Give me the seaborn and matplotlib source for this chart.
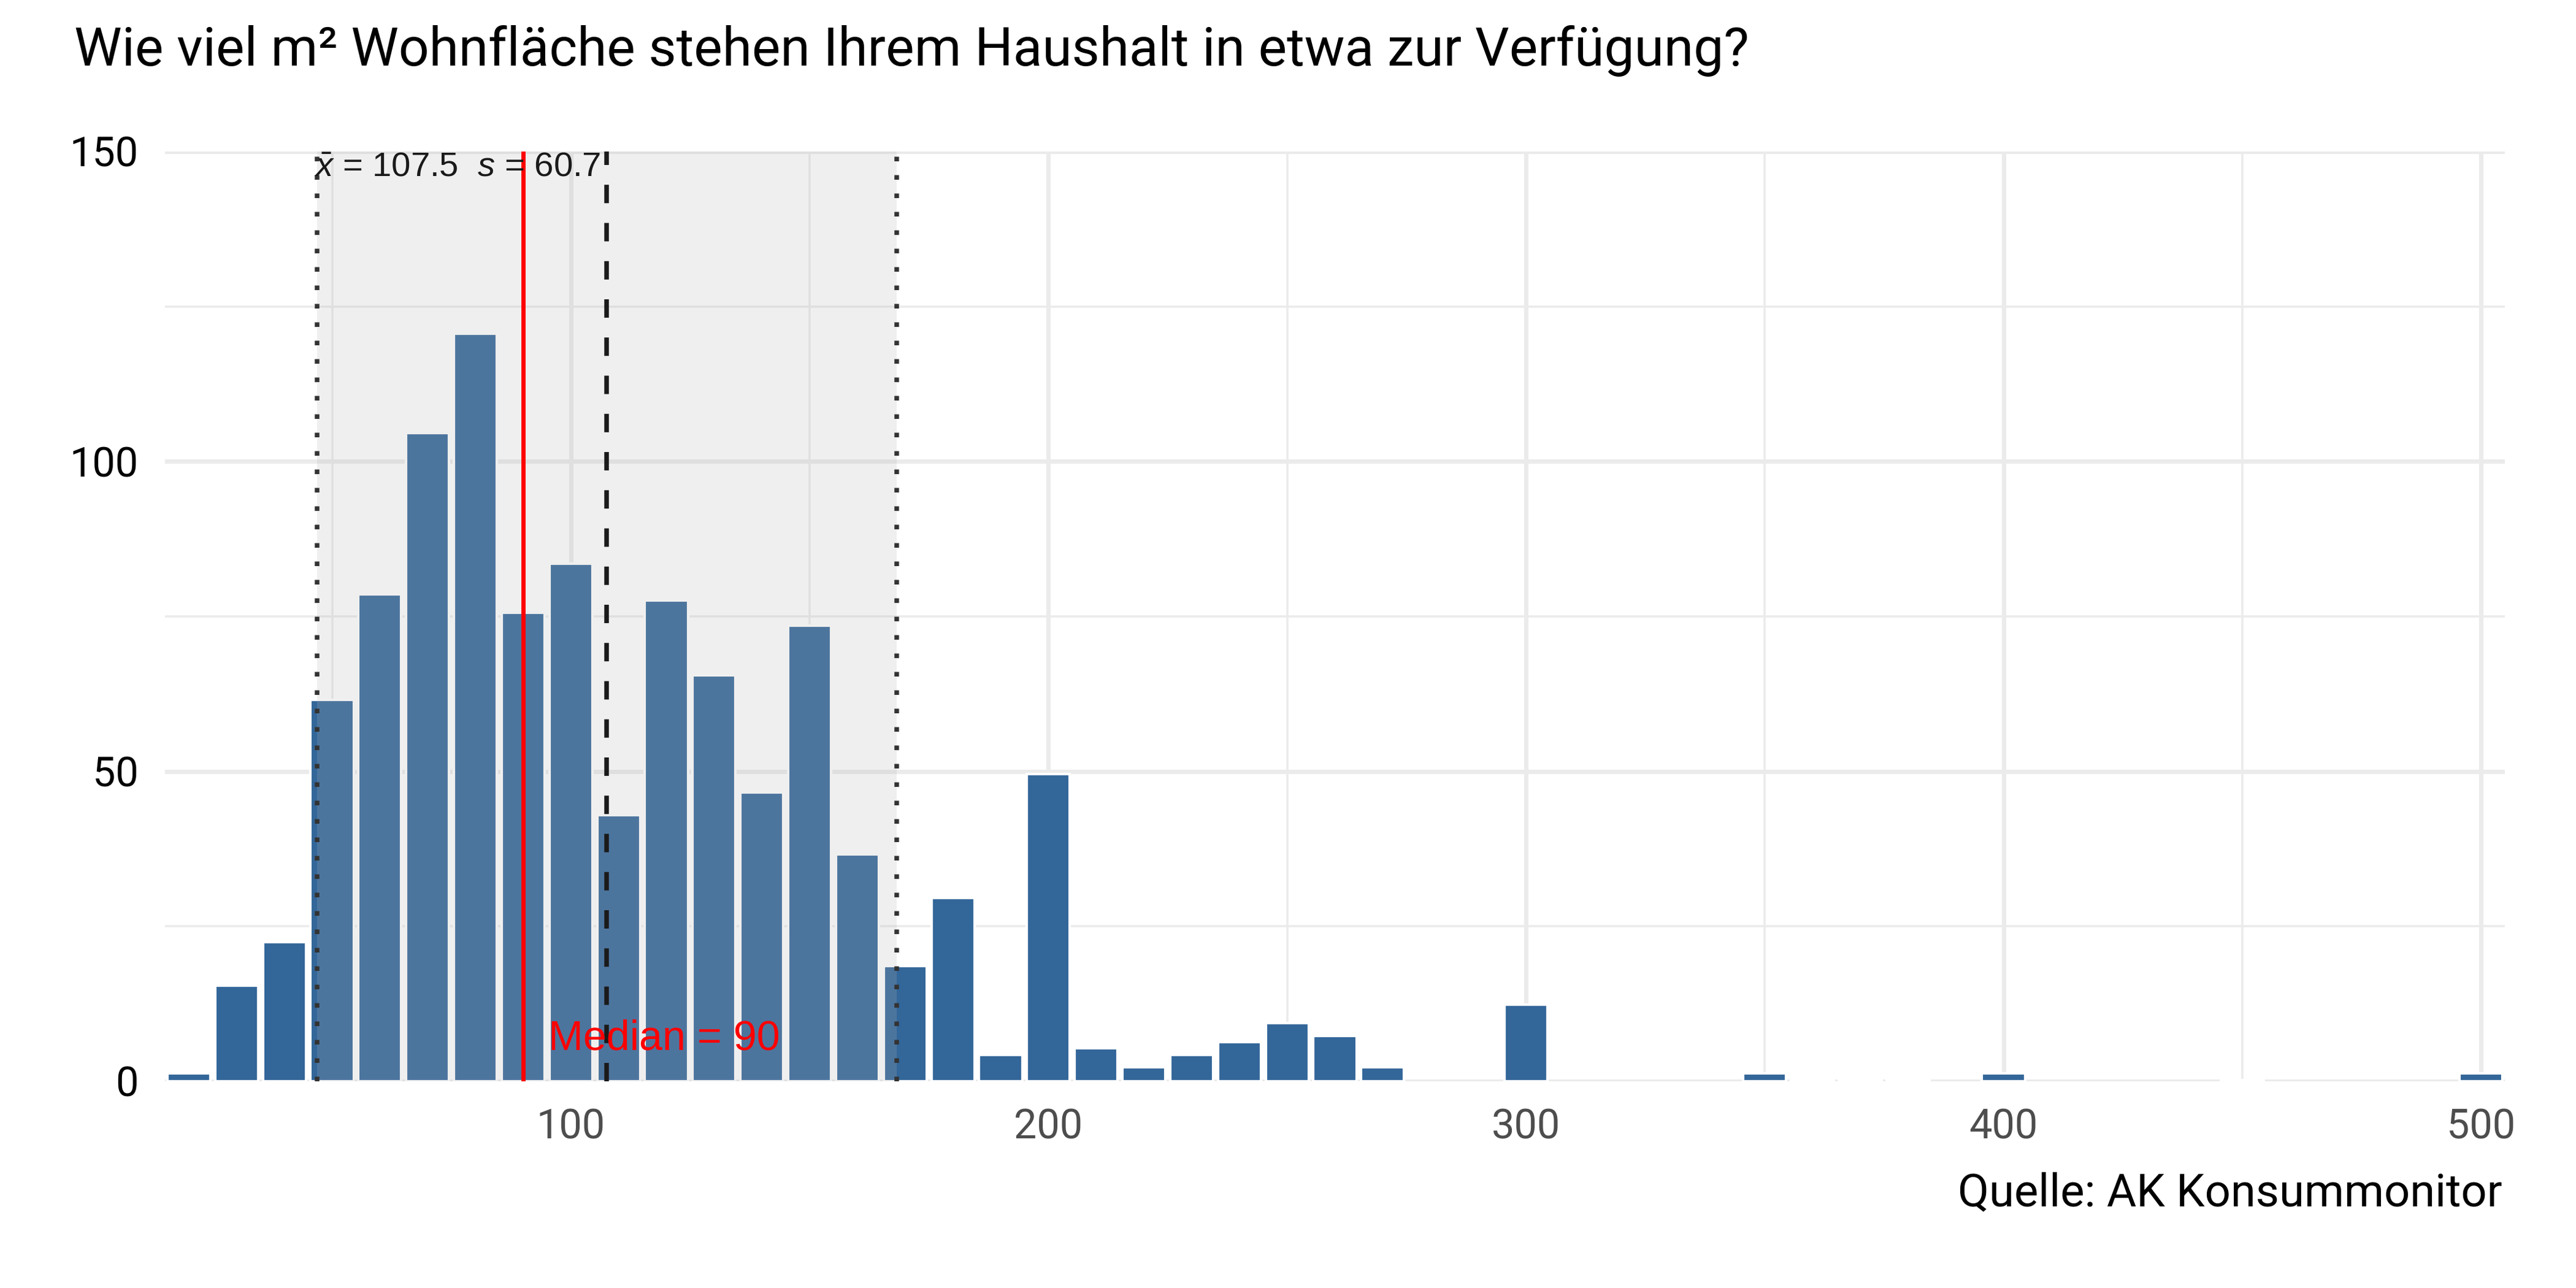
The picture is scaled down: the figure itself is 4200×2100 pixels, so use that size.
import numpy as np
import pandas as pd
import matplotlib
matplotlib.use("Agg")
import matplotlib.pyplot as plt
import seaborn as sns
from matplotlib.ticker import FixedLocator

# ---- data ----
bin_centers = [20, 30, 40, 50, 60, 70, 80, 90, 100, 110, 120, 130, 140, 150, 160,
               170, 180, 190, 200, 210, 220, 230, 240, 250, 260, 270, 300,
               350, 360, 370, 380, 400, 450, 500]
counts = [1.27, 15.4, 22.5, 61.5, 78.6, 104.6, 120.6, 75.6, 83.5, 42.9, 77.6, 65.5, 46.6, 73.5, 36.6,
          18.6, 29.6, 4.3, 49.6, 5.3, 2.3, 4.3, 6.3, 9.4, 7.3, 2.3, 12.4,
          1.27, 0.2, 0.2, 0.2, 1.27, 0.2, 1.27]
mean_val = 107.5
sd_val = 60.7
median_val = 90
x_major = [100, 200, 300, 400, 500]
x_minor = [50, 150, 250, 350, 450]
y_major = [0, 50, 100, 150]
y_minor = [25, 75, 125]
title = "Wie viel m² Wohnfläche stehen Ihrem Haushalt in etwa zur Verfügung?"
caption = "Quelle: AK Konsummonitor"

df = pd.DataFrame({"x": bin_centers, "n": counts})

sns.set_theme(style="white")
plt.rcParams["font.family"] = ["Roboto", "DejaVu Sans"]
plt.rcParams["mathtext.fontset"] = "custom"
plt.rcParams["mathtext.rm"] = "Liberation Sans"
plt.rcParams["mathtext.it"] = "Liberation Sans:italic"

W, H = 4200, 2100
fig = plt.figure(figsize=(14, 7), dpi=300)
L, R, T, B = 269, 4084, 247, 1763
ax = fig.add_axes([L / W, 1 - B / H, (R - L) / W, (B - T) / H])

sns.barplot(data=df, x="x", y="n", native_scale=True, width=0.9,
            color="#336699", saturation=1, ax=ax, zorder=2)

ax.set_xlim(15, 505)
ax.set_ylim(0, 150)
ax.set_xlabel("")
ax.set_ylabel("")
for s in ax.spines.values():
    s.set_visible(False)

ax.xaxis.set_major_locator(FixedLocator(x_major))
ax.xaxis.set_minor_locator(FixedLocator(x_minor))
ax.yaxis.set_major_locator(FixedLocator(y_major))
ax.yaxis.set_minor_locator(FixedLocator(y_minor))
ax.grid(which="major", color="#ebebeb", linewidth=1.7, zorder=0)
ax.grid(which="minor", color="#ebebeb", linewidth=0.85, zorder=0)
ax.set_axisbelow(True)
ax.tick_params(which="both", length=0)
ax.tick_params(axis="x", labelsize=16, labelcolor="#4d4d4d", pad=10.5)
ax.tick_params(axis="y", labelsize=16, labelcolor="#000000", pad=10.3)

# shaded +-1 SD band (drawn over bars)
ax.axvspan(mean_val - sd_val, mean_val + sd_val, color="#b3b3b3", alpha=0.2,
           lw=0, zorder=3)
for xv in (mean_val - sd_val, mean_val + sd_val):
    ax.axvline(xv, color="#333333", lw=1.8, dashes=(1, 3), zorder=4)
ax.axvline(mean_val, color="#1a1a1a", lw=1.8, dashes=(4, 4.3), zorder=4)
ax.axvline(median_val, color="#ff0000", lw=1.65, zorder=5)

ax.text(mean_val - sd_val - 0.6, 150,
        r"$\bar{x}$ = 107.5  $s$ = 60.7",
        ha="left", va="top", fontsize=13.5, color="#1a1a1a",
        family=["Liberation Sans"], zorder=6)
ax.text(median_val + 5.3, 5.1, "Median = 90", ha="left", va="baseline",
        fontsize=16.4, color="#ff0000", family=["Liberation Sans"], zorder=6)

fig.text(121 / W, 1 - 107 / H, title, ha="left", va="baseline",
         fontsize=21, color="#000000")
fig.text(4080 / W, 1 - 1966 / H, caption, ha="right", va="baseline",
         fontsize=17.8, color="#000000")

fig.savefig("out.png", dpi=300, facecolor="white")
